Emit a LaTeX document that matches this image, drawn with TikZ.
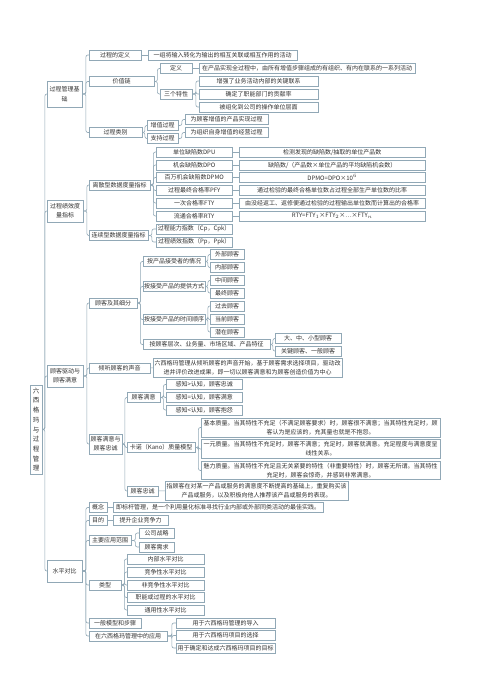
\documentclass[tikz,border=0pt]{standalone}
\usepackage{fontspec}
\setmainfont{Noto Sans CJK SC}
\definecolor{linec}{RGB}{145,168,182}
\definecolor{txt}{RGB}{50,50,50}

\begin{document}
\begin{tikzpicture}[x=1pt, y=-1pt,
    box/.style={draw=linec, fill=white, anchor=west, inner sep=0.8pt, minimum height=10pt,
      align=center, text=txt, font=\fontsize{6}{9}\selectfont},
    link/.style={draw=linec, line width=0.6pt, rounded corners=2pt}]
  \fill[white] (0,0) rectangle (500,695);
  \useasboundingbox (0,0) rectangle (500,695);

  % root and first level
  \node[box, minimum width=12pt, minimum height=89pt, inner sep=0.5pt,
    font=\fontsize{6.5}{9.7}\selectfont] (root) at (30,429.5) {六\\西\\格\\玛\\与\\过\\程\\管\\理};
  \node[box, minimum width=35pt, minimum height=26pt, font=\fontsize{6}{10.5}\selectfont] (base) at (47,94) {过程管理基\\础};
  \node[box, minimum width=36pt, minimum height=22pt] (perf) at (47,211) {过程绩效度\\量指标};
  \node[box, minimum width=36pt, minimum height=22pt] (cust) at (47,376) {顾客驱动与\\顾客满意};
  \node[box, minimum width=35pt, minimum height=22pt] (bench) at (47,571) {水平对比};
  \foreach \c in {base,perf,cust,bench}
    \draw[link] (root.east) -- ++(2.5,0) |- (\c.west);

  % process basics
  \node[box, minimum width=52pt] (defn) at (89,55) {过程的定义};
  \node[box, minimum width=149pt] (defntxt) at (148,55) {一组将输入转化为输出的相互关联或相互作用的活动};
  \node[box, minimum width=65pt] (chain) at (89,81.5) {价值链};
  \node[box, minimum width=32pt] (chaindef) at (160,68.5) {定义};
  \node[box, minimum width=216pt] (chaindeftxt) at (199,68.5) {在产品实现全过程中，由所有增值步骤组成的有组织、有内在联系的一系列活动};
  \node[box, minimum width=32pt] (three) at (160,94) {三个特性};
  \node[box, minimum width=119pt] (feat1) at (199,81) {增强了业务活动内部的关键联系};
  \node[box, minimum width=119pt] (feat2) at (199,94) {确定了职能部门的贡献率};
  \node[box, minimum width=119pt] (feat3) at (199,107) {被组化到公司的操作单位层面};
  \node[box, minimum width=53pt] (kind) at (89,132.5) {过程类别};
  \node[box, minimum width=31pt] (added) at (147,125.5) {增值过程};
  \node[box, minimum width=83pt] (addedtxt) at (185,119.5) {为顾客增值的产品实现过程};
  \node[box, minimum width=31pt] (support) at (147,138.5) {支持过程};
  \node[box, minimum width=83pt] (supporttxt) at (185,132.5) {为组织自身增值的经营过程};
  \foreach \c in {defn,chain,kind}
    \draw[link] (base.east) -- ++(3.5,0) |- (\c.west);
  \draw[link] (defn) -- (defntxt);
  \foreach \c in {chaindef,three}
    \draw[link] (chain.east) -- ++(3,0) |- (\c.west);
  \draw[link] (chaindef) -- (chaindeftxt);
  \foreach \c in {feat1,feat2,feat3}
    \draw[link] (three.east) -- ++(3.5,0) |- (\c.west);
  \foreach \c in {added,support}
    \draw[link] (kind.east) -- ++(2.5,0) |- (\c.west);
  \draw[link] (added.east) -- ++(3.5,0) |- (addedtxt.west);
  \draw[link] (support.east) -- ++(3.5,0) |- (supporttxt.west);

  % performance metrics
  \node[box, minimum width=61pt] (disc) at (89,185) {离散型数据度量指标};
  \node[box, minimum width=76pt] (dpu) at (156,152) {单位缺陷数DPU};
  \node[box, minimum width=76pt] (dpo) at (156,165) {机会缺陷数DPO};
  \node[box, minimum width=76pt] (dpmo) at (156,177.5) {百万机会缺陷数DPMO};
  \node[box, minimum width=76pt] (pfy) at (156,190.5) {过程最终合格率PFY};
  \node[box, minimum width=76pt] (fty) at (156,203) {一次合格率FTY};
  \node[box, minimum width=76pt] (rty) at (156,216) {流通合格率RTY};
  \node[box, minimum width=186pt] (tdpu) at (239,152) {检测发现的缺陷数/抽取的单位产品数};
  \node[box, minimum width=186pt] (tdpo) at (239,165) {缺陷数/（产品数×单位产品的平均缺陷机会数）};
  \node[box, minimum width=186pt] (tdpmo) at (239,177.5) {DPMO=DPO×10$^{6}$};
  \node[box, minimum width=186pt] (tpfy) at (239,190.5) {通过检验的最终合格单位数占过程全部生产单位数的比率};
  \node[box, minimum width=186pt] (tfty) at (239,203) {由没经返工、返修便通过检验的过程输出单位数而计算出的合格率};
  \node[box, minimum width=186pt] (trty) at (239,216) {RTY=FTY$_{1}$×FTY$_{2}$×…×FTY$_{n}$};
  \node[box, minimum width=59pt] (cont) at (89,235.5) {连续型数据度量指标};
  \node[box, minimum width=76pt] (cp) at (156,229) {过程能力指数（Cp，Cpk）};
  \node[box, minimum width=76pt] (pp) at (156,242) {过程绩效指数（Pp，Ppk）};
  \foreach \c in {disc,cont}
    \draw[link] (perf.east) -- ++(3.5,0) |- (\c.west);
  \foreach \c in {dpu,dpo,dpmo,pfy,fty,rty} {
    \draw[link] (disc.east) -- ++(3,0) |- (\c.west);
    \draw[link] (\c) -- (t\c);
  }
  \foreach \c in {cp,pp}
    \draw[link] (cont.east) -- ++(3.5,0) |- (\c.west);

  % customers
  \node[box, minimum width=48pt] (seg) at (89,303) {顾客及其细分};
  \node[box, minimum width=62pt] (bytaker) at (143,261.5) {按产品接受者的情况};
  \node[box, minimum width=34pt] (outer) at (210,254.5) {外部顾客};
  \node[box, minimum width=34pt] (inner) at (210,267.5) {内部顾客};
  \node[box, minimum width=62pt] (byway) at (143,286.5) {按接受产品的提供方式};
  \node[box, minimum width=34pt] (middle) at (210,280.5) {中间顾客};
  \node[box, minimum width=34pt] (final) at (210,293) {最终顾客};
  \node[box, minimum width=62pt] (bytime) at (143,319.5) {按接受产品的时间顺序};
  \node[box, minimum width=34pt] (past) at (210,306) {过去顾客};
  \node[box, minimum width=34pt] (current) at (210,319.5) {当前顾客};
  \node[box, minimum width=34pt] (latent) at (210,332) {潜在顾客};
  \node[box, minimum width=127pt] (bylevel) at (143,344.5) {按顾客层次、业务量、市场区域、产品特征};
  \node[box, minimum width=66pt] (scale) at (275,338.5) {大、中、小型顾客};
  \node[box, minimum width=66pt] (keycust) at (275,351) {关键顾客、一般顾客};
  \node[box, minimum width=61pt] (voice) at (89,368) {倾听顾客的声音};
  \node[box, minimum width=189pt, minimum height=19pt] (voicetxt) at (153,367.5)
    {六西格玛管理从倾听顾客的声音开始，基于顾客需求选择项目，驱动改\\进并评价改进成果，即一切以顾客满意和为顾客创造价值为中心};
  \node[box, minimum width=33pt, minimum height=20pt] (sat) at (89,444) {顾客满意与\\顾客忠诚};
  \node[box, minimum width=33pt] (satis) at (127,397.5) {顾客满意};
  \node[box, minimum width=76pt] (gt) at (166,384.5) {感知>认知，顾客忠诚};
  \node[box, minimum width=76pt] (eq) at (166,397.5) {感知=认知，顾客满意};
  \node[box, minimum width=76pt] (lt) at (166,410) {感知<认知，顾客抱怨};
  \node[box, minimum width=68pt] (kano) at (127,447.5) {卡诺（Kano）质量模型};
  \node[box, minimum width=239pt, minimum height=19pt] (basic) at (201,427.5)
    {基本质量。当其特性不充足（不满足顾客要求）时，顾客很不满意；当其特性充足时，顾\\客认为是应该的，充其量也就是不抱怨。};
  \node[box, minimum width=239pt, minimum height=19pt] (linear) at (201,449)
    {一元质量。当其特性不充足时，顾客不满意；充足时，顾客就满意。充足程度与满意度呈\\线性关系。};
  \node[box, minimum width=239pt, minimum height=18pt] (charm) at (201,470.5)
    {魅力质量。当其特性不充足且无关紧要的特性（非重要特性）时，顾客无所谓。当其特性\\充足时，顾客会惊奇，并感到非常满意。};
  \node[box, minimum width=31pt] (loyal) at (127,491) {顾客忠诚};
  \node[box, minimum width=183pt, minimum height=19pt] (loyaltxt) at (165,490.5)
    {指顾客在对某一产品或服务的满意度不断提高的基础上，重复购买该\\产品或服务，以及积极向他人推荐该产品或服务的表现。};
  \foreach \c in {seg,voice,sat}
    \draw[link] (cust.east) -- ++(3.5,0) |- (\c.west);
  \foreach \c in {bytaker,byway,bytime,bylevel}
    \draw[link] (seg.east) -- ++(3,0) |- (\c.west);
  \foreach \c in {outer,inner}
    \draw[link] (bytaker.east) -- ++(2.5,0) |- (\c.west);
  \foreach \c in {middle,final}
    \draw[link] (byway.east) -- ++(2.5,0) |- (\c.west);
  \foreach \c in {past,current,latent}
    \draw[link] (bytime.east) -- ++(2.5,0) |- (\c.west);
  \foreach \c in {scale,keycust}
    \draw[link] (bylevel.east) -- ++(2.5,0) |- (\c.west);
  \draw[link] (voice) -- (voicetxt);
  \foreach \c in {satis,kano,loyal}
    \draw[link] (sat.east) -- ++(2.5,0) |- (\c.west);
  \foreach \c in {gt,eq,lt}
    \draw[link] (satis.east) -- ++(3,0) |- (\c.west);
  \foreach \c in {basic,linear,charm}
    \draw[link] (kano.east) -- ++(3,0) |- (\c.west);
  \draw[link] (loyal) -- (loyaltxt);

  % benchmarking
  \node[box, minimum width=18pt] (concept) at (89,507.5) {概念};
  \node[box, minimum width=210pt] (concepttxt) at (113,507.5) {即标杆管理，是一个利用量化标准寻找行业内部或外部同类活动的最佳实践。};
  \node[box, minimum width=18pt] (goal) at (89,520.5) {目的};
  \node[box, minimum width=55pt] (goaltxt) at (113,520.5) {提升企业竞争力};
  \node[box, minimum width=42pt] (scope) at (89,540.5) {主要应用范围};
  \node[box, minimum width=35pt] (strategy) at (139,533) {公司战略};
  \node[box, minimum width=35pt] (demand) at (139,547) {顾客需求};
  \node[box, minimum width=32pt] (type) at (89,585) {类型};
  \node[box, minimum width=77pt] (inside) at (127,559) {内部水平对比};
  \node[box, minimum width=77pt] (rival) at (127,572) {竞争性水平对比};
  \node[box, minimum width=77pt] (nonrival) at (127,585) {非竞争性水平对比};
  \node[box, minimum width=77pt] (func) at (127,597.5) {职能或过程的水平对比};
  \node[box, minimum width=77pt] (generic) at (127,610) {通用性水平对比};
  \node[box, minimum width=52pt] (model) at (89,623) {一般模型和步骤};
  \node[box, minimum width=78pt] (apply) at (89,636) {在六西格玛管理中的应用};
  \node[box, minimum width=99pt] (intro) at (176,623) {用于六西格玛管理的导入};
  \node[box, minimum width=99pt] (choose) at (176,635.5) {用于六西格玛项目的选择};
  \node[box, minimum width=99pt] (target) at (176,648) {用于确定和达成六西格玛项目的目标};
  \foreach \c in {concept,goal,scope,type,model,apply}
    \draw[link] (bench.east) -- ++(3.5,0) |- (\c.west);
  \draw[link] (concept) -- (concepttxt);
  \draw[link] (goal) -- (goaltxt);
  \foreach \c in {strategy,demand}
    \draw[link] (scope.east) -- ++(4,0) |- (\c.west);
  \foreach \c in {inside,rival,nonrival,func,generic}
    \draw[link] (type.east) -- ++(3,0) |- (\c.west);
  \foreach \c in {intro,choose,target}
    \draw[link] (apply.east) -- ++(4.5,0) |- (\c.west);
\end{tikzpicture}
\end{document}
